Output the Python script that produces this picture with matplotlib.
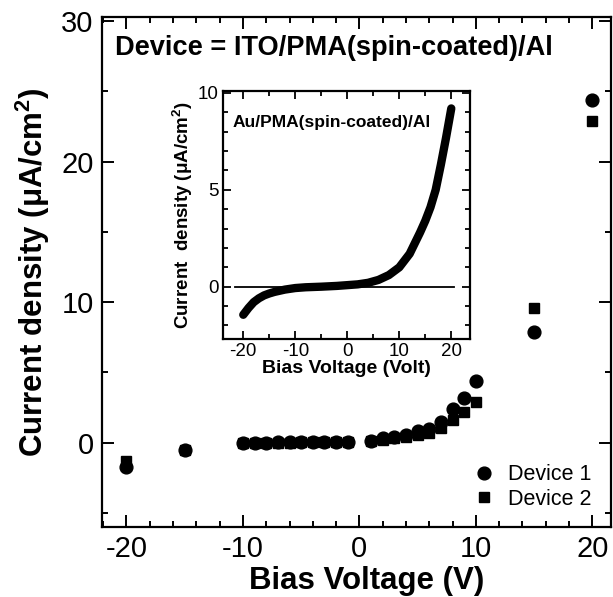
import matplotlib
matplotlib.use("Agg")
import matplotlib.pyplot as plt
from matplotlib.ticker import MultipleLocator
from matplotlib.lines import Line2D

plt.rcParams['font.family'] = ['Liberation Sans', 'DejaVu Sans']
plt.rcParams['mathtext.fontset'] = 'custom'
plt.rcParams['mathtext.rm'] = 'Liberation Sans'
plt.rcParams['mathtext.bf'] = 'Liberation Sans:bold'
plt.rcParams['axes.unicode_minus'] = False

# ---- main data ----
dev1_v = [-20, -15, -10, -9, -8, -7, -6, -5, -4, -3, -2, -1,
          1, 2, 3, 4, 5, 6, 7, 8, 9, 10, 15, 20]
dev1_j = [-1.7, -0.5, 0.0, 0.0, 0.0, 0.02, 0.02, 0.03, 0.03, 0.04, 0.05, 0.05,
          0.15, 0.3, 0.4, 0.55, 0.8, 1.0, 1.5, 2.4, 3.2, 4.4, 7.9, 24.4]
dev2_v = [-20, -15, -10, -9, -8, -7, -6, -5, -4, -3, -2, -1,
          1, 2, 3, 4, 5, 6, 7, 8, 9, 10, 15, 20]
dev2_j = [-1.3, -0.5, 0.0, 0.0, 0.0, 0.0, 0.0, 0.02, 0.02, 0.03, 0.04, 0.04,
          0.1, 0.2, 0.3, 0.4, 0.55, 0.7, 1.07, 1.6, 2.2, 2.9, 9.6, 22.9]

# ---- inset data ----
inset_v = [-20, -19, -18, -17, -16, -15, -14, -12, -10, -8, -5, -2, 0, 2, 4, 6, 8,
           10, 12, 14, 15, 16, 17, 18, 19, 20]
inset_j = [-1.45, -1.1, -0.8, -0.6, -0.45, -0.35, -0.27, -0.15, -0.07, -0.03, 0.0,
           0.04, 0.08, 0.12, 0.2, 0.35, 0.6, 1.0, 1.7, 2.8, 3.4, 4.1, 5.0, 6.3, 7.7, 9.2]

W, H = 613, 597
fig = plt.figure(figsize=(W / 100, H / 100), dpi=100)

# main axes (right spine slightly beyond the image edge as in reference)
ax = fig.add_axes([102 / W, 1 - 527 / H, 509 / W, 510 / H])
ax.plot(dev2_v, dev2_j, 's', color='black', markersize=7.2, zorder=2, linestyle='none')
ax.plot(dev1_v, dev1_j, 'o', color='black', markersize=9.2, zorder=3, linestyle='none')
ax.set_xlim(-22.1, 21.6)
ax.set_ylim(-6.0, 30.3)
ax.xaxis.set_major_locator(MultipleLocator(10))
ax.xaxis.set_minor_locator(MultipleLocator(2))
ax.yaxis.set_major_locator(MultipleLocator(10))
ax.yaxis.set_minor_locator(MultipleLocator(5))
ax.tick_params(which='both', direction='in', top=True, right=True, width=1.4,
               labelsize=21, pad=6)
ax.tick_params(which='major', length=8.5)
ax.tick_params(which='minor', length=4.5)
for s in ax.spines.values():
    s.set_linewidth(1.6)
ax.set_xlabel('Bias Voltage (V)', fontsize=22.5, fontweight='bold')
ax.xaxis.set_label_coords((367 - 102) / 509, -0.077)
ax.set_ylabel('Current density (μA/cm$^{\\mathbf{2}}$)', fontsize=22.5,
              fontweight='bold', labelpad=7)
fig.text(115 / W, 1 - 55 / H, 'Device = ITO/PMA(spin-coated)/Al',
         fontsize=19.6, fontweight='bold', ha='left', va='baseline')

handles = [Line2D([], [], marker='o', color='black', linestyle='none', markersize=9.2),
           Line2D([], [], marker='s', color='black', linestyle='none', markersize=7.2)]
ax.legend(handles, ['Device 1', 'Device 2'], loc='lower right',
          bbox_to_anchor=(0.962, 0.034), frameon=False, fontsize=15.5,
          handletextpad=0.6, labelspacing=0.15, borderpad=0, handlelength=1.0,
          borderaxespad=0)

# inset axes
ins = fig.add_axes([223 / W, 1 - 339 / H, 247 / W, 248 / H])
ins.plot([-21.5, 20.5], [0, 0], color='black', linewidth=1.3)
ins.plot(inset_v, inset_j, color='black', linewidth=6, solid_capstyle='round',
         solid_joinstyle='round')
ins.set_xlim(-23.9, 23.6)
ins.set_ylim(-2.7, 10.1)
ins.xaxis.set_major_locator(MultipleLocator(10))
ins.xaxis.set_minor_locator(MultipleLocator(5))
ins.yaxis.set_major_locator(MultipleLocator(5))
ins.yaxis.set_minor_locator(MultipleLocator(1))
ins.tick_params(which='both', direction='in', top=True, right=True, width=1.3,
                labelsize=13.5, pad=3)
ins.tick_params(which='major', length=6)
ins.tick_params(which='minor', length=3.5)
for s in ins.spines.values():
    s.set_linewidth(1.6)
ins.set_xlabel('Bias Voltage (Volt)', fontsize=14, fontweight='bold', labelpad=0)
ins.set_ylabel('Current  density (μA/cm$^{\\mathbf{2}}$)', fontsize=13.5,
               fontweight='bold', labelpad=2)
ins.text(0.04, 0.855, 'Au/PMA(spin-coated)/Al', transform=ins.transAxes,
         fontsize=12.5, fontweight='bold', ha='left', va='baseline')

fig.savefig('out.png', dpi=100)
